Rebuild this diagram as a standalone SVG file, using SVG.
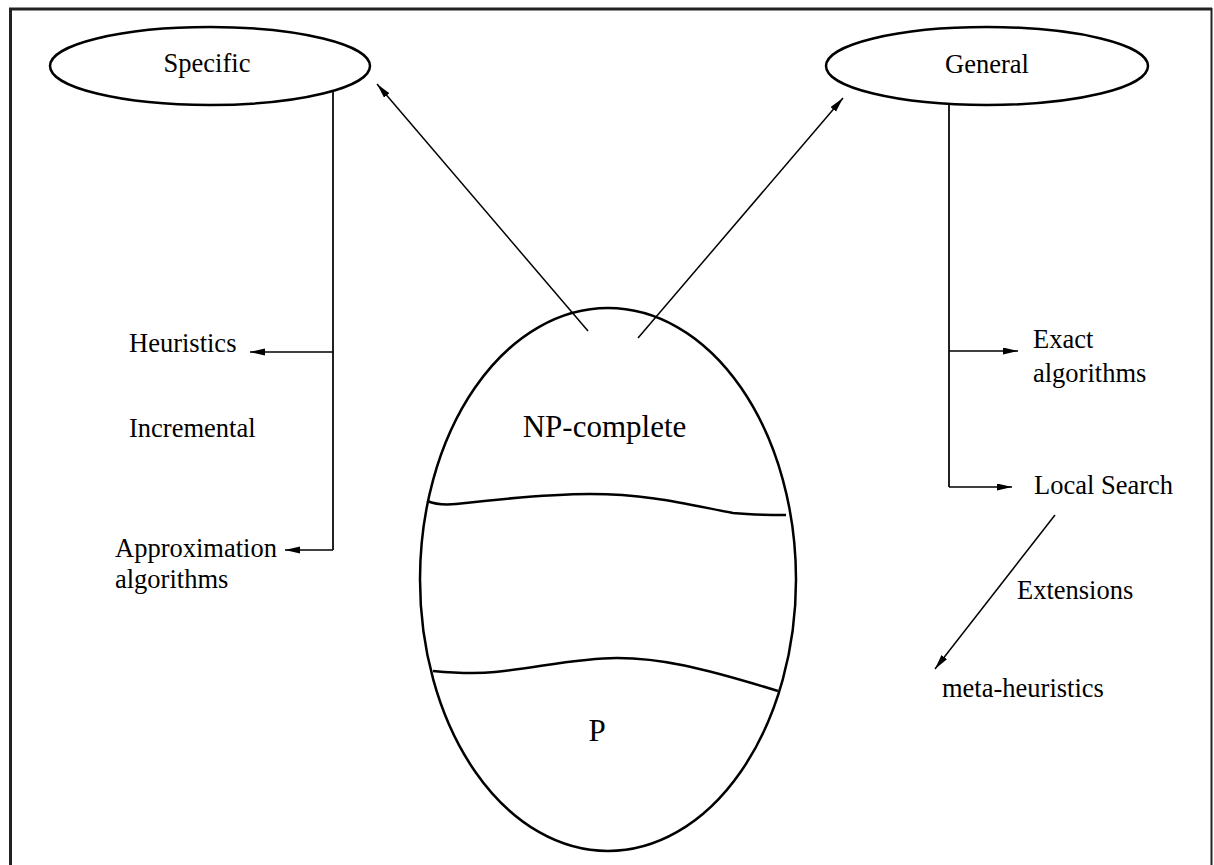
<svg xmlns="http://www.w3.org/2000/svg" width="1214" height="865" viewBox="0 0 1214 865">
  <style>
    .lbl { font-family: "Liberation Serif", "Times New Roman", serif; font-size: 26.5px; fill: #000; }
    .big { font-family: "Liberation Serif", "Times New Roman", serif; font-size: 31px; fill: #000; }
    .shape { fill: none; stroke: #000; stroke-width: 2.5; }
    .conn { fill: none; stroke: #000; stroke-width: 1.5; }
    .trunk { fill: none; stroke: #222; stroke-width: 2; }
  </style>
  <defs>
    <marker id="arrow" markerUnits="userSpaceOnUse" markerWidth="16" markerHeight="8" refX="15" refY="3.5" orient="auto">
      <path d="M0,0 L15,3.5 L0,7 Z" fill="#000"/>
    </marker>
  </defs>

  <rect width="1214" height="865" fill="#fff"/>

  <!-- frame (open at the bottom) -->
  <g id="frame" fill="none" stroke="#222">
    <line x1="10.5" y1="8" x2="10.5" y2="865" stroke-width="3"/>
    <line x1="9" y1="9" x2="1212" y2="9" stroke-width="3"/>
    <line x1="1211.5" y1="8" x2="1211.5" y2="865" stroke-width="2"/>
  </g>

  <!-- complexity classes -->
  <g id="classes">
    <ellipse class="shape" cx="608" cy="579.5" rx="188" ry="271.5"/>
    <path class="shape" d="M427,501 C437,505 446,505 456,504 C500,499 548,494 590,494 C650,494 690,505 733,513 C752,515 770,515 786,515"/>
    <path class="shape" d="M433,671 C455,673 475,674 495,672 C540,667 580,658 617,658 C660,658 700,667 778,691"/>
    <text class="big" x="604.5" y="437" text-anchor="middle">NP-complete</text>
    <text class="big" x="597" y="741" text-anchor="middle">P</text>
  </g>

  <g id="specific">
    <ellipse class="shape" cx="210" cy="66" rx="160" ry="39"/>
    <text class="lbl" x="207" y="72" text-anchor="middle">Specific</text>
  </g>

  <g id="general">
    <ellipse class="shape" cx="987" cy="66" rx="161" ry="39"/>
    <text class="lbl" x="987" y="73" text-anchor="middle">General</text>
  </g>

  <g id="heuristics"><text class="lbl" x="129" y="352">Heuristics</text></g>
  <g id="incremental"><text class="lbl" x="129" y="437">Incremental</text></g>
  <g id="approximation">
    <text class="lbl" x="115" y="557">Approximation</text>
    <text class="lbl" x="115" y="588">algorithms</text>
  </g>
  <g id="exact">
    <text class="lbl" x="1033" y="348">Exact</text>
    <text class="lbl" x="1033" y="382">algorithms</text>
  </g>
  <g id="local-search"><text class="lbl" x="1034" y="494">Local Search</text></g>
  <g id="meta-heuristics"><text class="lbl" x="942" y="697">meta-heuristics</text></g>

  <g id="connectors">
    <line class="conn" x1="588" y1="331" x2="377" y2="84" marker-end="url(#arrow)"/>
    <line class="conn" x1="638" y1="338" x2="843" y2="98" marker-end="url(#arrow)"/>
    <line class="trunk" x1="333" y1="92" x2="333" y2="550"/>
    <line class="conn" x1="333" y1="352" x2="250" y2="352" marker-end="url(#arrow)"/>
    <line class="conn" x1="333" y1="550" x2="285" y2="550" marker-end="url(#arrow)"/>
    <line class="trunk" x1="949" y1="105" x2="949" y2="487"/>
    <line class="conn" x1="949" y1="351" x2="1018" y2="351" marker-end="url(#arrow)"/>
    <line class="conn" x1="949" y1="487" x2="1012" y2="487" marker-end="url(#arrow)"/>
    <line class="conn" x1="1055" y1="515" x2="935" y2="669" marker-end="url(#arrow)"/>
    <text class="lbl" x="1017" y="599">Extensions</text>
  </g>
</svg>
